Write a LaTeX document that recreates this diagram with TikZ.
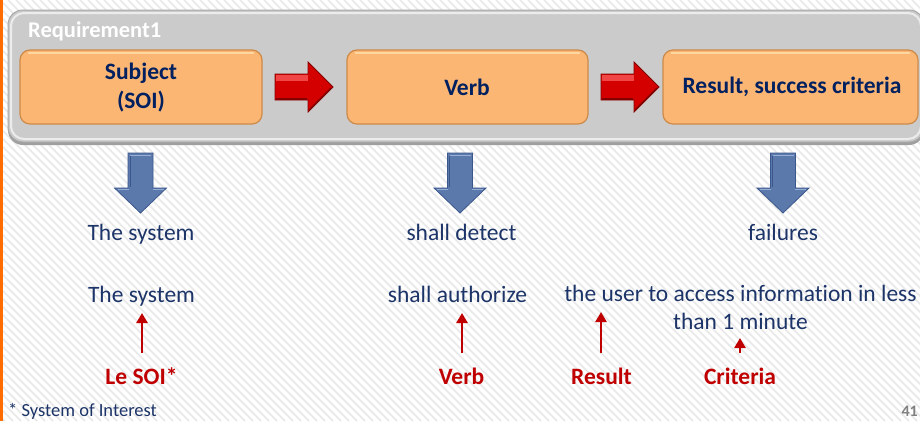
\documentclass[tikz,border=0pt]{standalone}
\usepackage{fontspec}
\setmainfont{Carlito}[Ligatures=NoCommon]
\usetikzlibrary{arrows.meta}
\definecolor{navy}{RGB}{0,32,96}
\definecolor{txtblue}{RGB}{28,52,104}
\definecolor{lblred}{RGB}{192,0,0}
\definecolor{boxfill}{RGB}{251,182,116}
\definecolor{boxedge}{RGB}{205,138,72}
\definecolor{boxhi}{RGB}{253,214,160}
\definecolor{panelfill}{RGB}{203,203,203}
\definecolor{paneledge}{RGB}{168,168,168}
\definecolor{stripe}{RGB}{232,232,232}
\definecolor{blkred}{RGB}{212,0,0}
\definecolor{blkredd}{RGB}{130,0,0}
\definecolor{blkredl}{RGB}{240,70,70}
\definecolor{blkblue}{RGB}{92,121,172}
\definecolor{blkblued}{RGB}{58,86,138}
\definecolor{blkbluel}{RGB}{150,175,215}
\tikzset{
  x=1pt, y=-1pt,
  stepbox/.style={rounded corners=10pt, fill=boxfill, draw=boxedge, line width=1.2pt},
  boxlabel/.style={font=\fontsize{23.5}{29}\selectfont\bfseries, text=navy, align=center, inner sep=0pt},
  rowtext/.style={font=\fontsize{23.5}{28}\selectfont, text=txtblue, inner sep=0pt, anchor=base},
  redlabel/.style={font=\fontsize{23.5}{28}\selectfont\bfseries, text=lblred, inner sep=0pt, anchor=base},
  pointer/.style={draw=lblred, line width=2.8pt, -{Triangle[width=11pt,length=10pt]}},
  rightblock/.pic={
    \path[fill=blkred, draw=blkredd, line width=0.8pt, line join=miter]
      (0,-13) -- (33,-13) -- (33,-25) -- (58,0) -- (33,25) -- (33,13) -- (0,13) -- cycle;
    \fill[blkredl] (1,-12) -- (33,-12) -- (33,-6) -- (1,-6) -- cycle;
    \draw[blkredd, line width=1.2pt] (34,23) -- (56,1);
    \draw[blkredd, line width=1.2pt] (1,12) -- (32,12);
  },
  downblock/.pic={
    \path[fill=blkblue, draw=blkblued, line width=0.8pt, line join=miter]
      (-12.5,0) -- (12.5,0) -- (12.5,35) -- (26,35) -- (0,60) -- (-26,35) -- (-12.5,35) -- cycle;
    \draw[blkbluel, line width=1pt] (-10.5,2) -- (10.5,2);
    \draw[blkbluel, line width=1pt] (-23,36.5) -- (-12,36.5);
    \draw[blkbluel, line width=1pt] (12,36.5) -- (23,36.5);
    \draw[blkblued, line width=0.8pt] (-10.5,3) -- (-10.5,34);
  }
}
\begin{document}
\begin{tikzpicture}
\useasboundingbox (0,0) rectangle (920,421);
% striped slide background
\fill[white] (0,0) rectangle (920,421);
\begin{scope}
  \clip (0,0) rectangle (920,421);
  \foreach \i in {-424,-416,...,920} {
    \draw[stripe, line width=1.6pt] (\i,0) -- ++(421,421);
  }
\end{scope}
% orange slide edge on the left
\fill[orange!85!red] (0,0) rectangle (2.5,421);

% requirement panel
\fill[gray!75, rounded corners=15pt] (8,13) rectangle (924,145);
\path[fill=panelfill, draw=paneledge, line width=1pt, rounded corners=15pt] (8,10) rectangle (924,142);
\draw[white!85!gray, line width=2pt, rounded corners=13pt] (11,13) rectangle (921,139);
\node[anchor=base west, inner sep=0pt, text=white, font=\fontsize{22.5}{27}\selectfont\bfseries] (reqtitle) at (28,37) {Requirement1};

% the three parts of a requirement
\draw[stepbox] (20,50) rectangle (262,124);
\draw[stepbox] (347,50) rectangle (588,124);
\draw[stepbox] (663,50) rectangle (918,124);
\draw[boxhi, line width=1.5pt] (28,53) -- (254,53);
\draw[boxhi, line width=1.5pt] (355,53) -- (580,53);
\draw[boxhi, line width=1.5pt] (671,53) -- (910,53);
\node[boxlabel] (subject) at (141,88) {Subject\\(SOI)};
\node[boxlabel] (verb) at (467,87) {Verb};
\node[boxlabel] (result) at (792,87) {Result, success criteria};

% block arrows between the parts
\pic at (275,87) {rightblock};
\pic at (601,87) {rightblock};

% block arrows down to the examples
\pic at (140.5,153) {downblock};
\pic at (460,153) {downblock};
\pic at (783,153) {downblock};

% first example
\node[rowtext] (sysA) at (141,240) {The system};
\node[rowtext] (detect) at (461.5,240) {shall detect};
\node[rowtext] (failures) at (783,240) {failures};

% second example
\node[rowtext] (sysB) at (141.5,302) {The system};
\node[rowtext] (authorize) at (457.5,302) {shall authorize};
\node[font=\fontsize{23.5}{28}\selectfont, text=txtblue, inner sep=0pt, align=center, anchor=north] (access) at (740.5,285) {the user to access information in less\\than 1 minute};

% labels for the parts of the second example
\node[redlabel] (lesoi) at (141.5,384) {Le SOI*};
\node[redlabel] (verblbl) at (461.5,384) {Verb};
\node[redlabel] (resultlbl) at (601.5,384) {Result};
\node[redlabel] (critlbl) at (740,384) {Criteria};

\coordinate (pA) at (142,313);
\coordinate (pB) at (462,313);
\coordinate (pC) at (601,312);
\coordinate (pD) at (740,338);
\draw[pointer] (lesoi.north -| pA) ++(0,-14) -- (pA);
\draw[pointer] (verblbl.north -| pB) ++(0,-14) -- (pB);
\draw[pointer] (resultlbl.north -| pC) ++(0,-14) -- (pC);
\draw[pointer] (critlbl.north -| pD) ++(0,-14) -- (pD);

% footnote and page number
\node[anchor=base west, inner sep=0pt, text=txtblue, font=\fontsize{18.5}{22}\selectfont] (footnote) at (8,416) {* System of Interest};
\node[anchor=base east, inner sep=0pt, text=gray, font=\fontsize{16}{20}\selectfont\bfseries] (pageno) at (918,416) {41};
\end{tikzpicture}
\end{document}
